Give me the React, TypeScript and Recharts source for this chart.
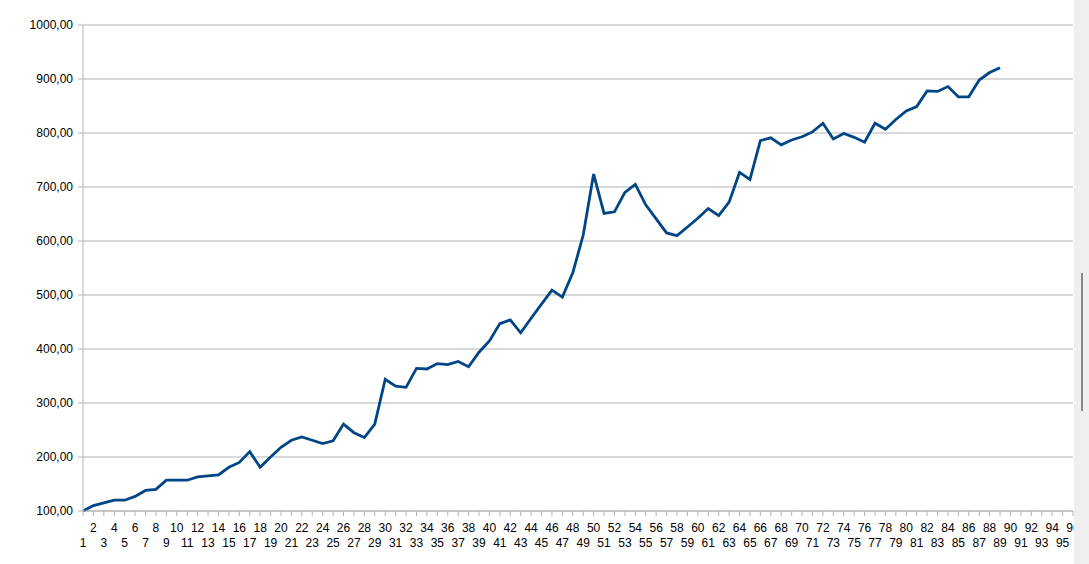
import React from "react";
import { LineChart, Line, XAxis, YAxis, CartesianGrid } from "recharts";

const categories = [
  "1", "2", "3", "4", "5", "6", "7", "8", "9", "10", "11", "12", "13", "14", "15", "16",
  "17", "18", "19", "20", "21", "22", "23", "24", "25", "26", "27", "28", "29", "30", "31", "32",
  "33", "34", "35", "36", "37", "38", "39", "40", "41", "42", "43", "44", "45", "46", "47", "48",
  "49", "50", "51", "52", "53", "54", "55", "56", "57", "58", "59", "60", "61", "62", "63", "64",
  "65", "66", "67", "68", "69", "70", "71", "72", "73", "74", "75", "76", "77", "78", "79", "80",
  "81", "82", "83", "84", "85", "86", "87", "88", "89", "90", "91", "92", "93", "94", "95", "96",
];

const values = [
  100, 110, 115, 120, 120, 127, 138, 140, 157, 157,
  157, 163, 165, 167, 181, 190, 210, 181, 200, 218,
  231, 237, 231, 225, 230, 261, 245, 236, 261, 344,
  331, 329, 364, 363, 373, 371, 377, 367, 394, 415,
  447, 454, 430, 457, 483, 509, 496, 541, 611, 724,
  651, 654, 690, 705, 667, 641, 615, 610, 626, 642,
  660, 647, 672, 727, 714, 786, 791, 778, 787, 793,
  802, 818, 789, 799, 792, 783, 818, 807, 825, 841,
  849, 878, 877, 886, 867, 867, 898, 912, 921,
];

const yTicks = [100, 200, 300, 400, 500, 600, 700, 800, 900, 1000];

const data = categories.map((c, i) => ({ cat: c, value: values[i] }));

const FONT = "'Liberation Sans', Arial, sans-serif";

function XTick({ x, y, payload, index }: any) {
  const odd = index % 2 === 0; // categories 1,3,5... sit on the lower row
  return (
    <text
      x={x}
      y={y + (odd ? 29 : 14)}
      textAnchor="middle"
      fontSize={12}
      fontFamily={FONT}
      fill="#000"
    >
      {payload.value}
    </text>
  );
}

const fmt = (v: number) => v.toFixed(2).replace(".", ",");

export default function App() {
  return (
    <div
      style={{
        position: "absolute",
        left: 0,
        top: 0,
        width: 1089,
        height: 564,
        background: "#fff",
        overflow: "hidden",
      }}
    >
      <LineChart
        width={1089}
        height={564}
        data={data}
        margin={{ top: 25, right: 16, bottom: 23, left: 0 }}
      >
        <CartesianGrid vertical={false} stroke="#b3b3b3" />
        <XAxis
          dataKey="cat"
          scale="point"
          interval={0}
          height={30}
          padding={{ left: 0, right: 0 }}
          axisLine={{ stroke: "#b3b3b3" }}
          tickLine={{ stroke: "#b3b3b3" }}
          tickSize={5}
          tick={<XTick />}
        />
        <YAxis
          width={83}
          domain={[100, 1000]}
          ticks={yTicks}
          interval={0}
          tickFormatter={fmt}
          axisLine={{ stroke: "#b3b3b3" }}
          tickLine={{ stroke: "#b3b3b3" }}
          tickSize={5}
          tickMargin={5}
          tick={{ fontSize: 12, fontFamily: FONT, fill: "#000" }}
        />
        <Line
          type="linear"
          dataKey="value"
          stroke="#004586"
          strokeWidth={2.8}
          dot={false}
          activeDot={false}
          isAnimationActive={false}
        />
      </LineChart>
      <div
        style={{
          position: "absolute",
          left: 1074,
          top: 0,
          width: 15,
          height: 564,
          background: "#efefef",
        }}
      />
      <div
        style={{
          position: "absolute",
          left: 1081,
          top: 273,
          width: 2,
          height: 138,
          background: "#888",
        }}
      />
    </div>
  );
}
